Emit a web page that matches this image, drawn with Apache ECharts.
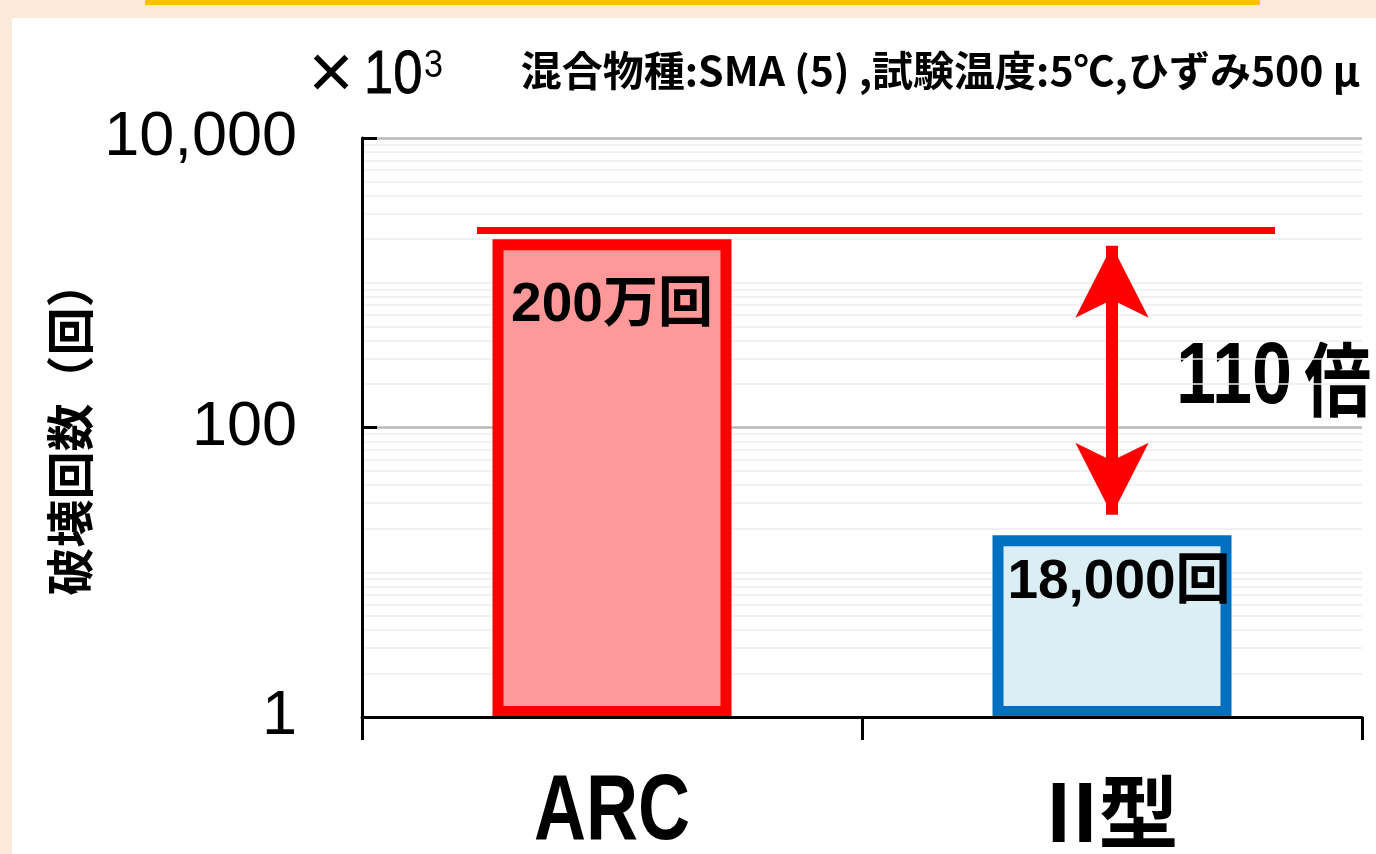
<!DOCTYPE html>
<html>
<head>
<meta charset="utf-8">
<script src="https://cdn.jsdelivr.net/npm/echarts@6/dist/echarts.min.js"></script>
<style>
html, body { margin: 0; padding: 0; background: #FDE9D9; }
#chart { width: 1376px; height: 854px; }
</style>
</head>
<body>
<div id="chart"></div>
<script>
// データ (×10^3 回)
const categories = ['ARC', 'II型'];
const cycles = [2000, 18];
const barLabels = ['200万回', '18,000回'];
const labelGaps = [39, 20];
const labelShift = [0, 7];
const majorTicks = [100, 10000];
const refLineX = [0.23, 1.826];
const refLineValue = 2300;
const arrowValues = [1800, 25];

const fontLatin = "'Liberation Sans', 'Noto Sans CJK JP', sans-serif";
const fontCJK = "'Noto Sans CJK JP', 'Liberation Sans', sans-serif";

// カテゴリ名の書体
const catFonts = ["bold 72px 'Liberation Sans'", "bold 80px 'Noto Sans CJK JP'"];
const catScaleY = [1.3, 1.0];
const catTop = [49, 55];

let myChart = echarts.init(document.getElementById('chart'));

// 目盛線 (主: 100, 10000 / 補助: 2〜9, 10, 1000)
let gridLines = [];
[1, 10, 100, 1000].forEach(d => {
    for (let m = 2; m <= 9; m++) gridLines.push({ yAxis: m * d });
});
gridLines.push({ yAxis: 10 }, { yAxis: 1000 });
majorTicks.forEach(v => {
    gridLines.push({ yAxis: v, lineStyle: { color: '#b8b8b8', width: 2.5 } });
});

let barStyles = [
    { color: '#FF9999', borderColor: '#FF0000' },
    { color: '#DAEEF3', borderColor: '#0070C0' }
];

let barData = cycles.map((v, i) => ({
    value: v,
    itemStyle: { color: barStyles[i].color, borderColor: barStyles[i].borderColor, borderWidth: 11 },
    label: { distance: labelGaps[i], offset: [labelShift[i], 0] }
}));

let baseGraphic = [
    { id: 'panel', type: 'rect', z: -10, silent: true, shape: { x: 12, y: 18, width: 1364, height: 836 }, style: { fill: '#ffffff' } },
    { id: 'band', type: 'rect', z: -10, silent: true, shape: { x: 145, y: 0, width: 1115, height: 5 }, style: { fill: '#FFC000' } },
    { id: 'unitX', type: 'text', x: 331, y: 76, style: { text: '×', font: "78px 'Liberation Sans'", fill: '#000', align: 'center', verticalAlign: 'middle' } },
    { id: 'unit', type: 'text', x: 364, y: 46, scaleX: 0.86, style: { text: '10', font: "61px 'Liberation Sans'", fill: '#000', verticalAlign: 'top', stroke: '#000', lineWidth: 0.8 } },
    { id: 'unitExp', type: 'text', x: 424, y: 48, scaleX: 0.9, style: { text: '3', font: "38px 'Liberation Sans'", fill: '#000', verticalAlign: 'top' } },
    { id: 'cond', type: 'text', right: 16, top: 50, style: { text: '混合物種:SMA (5) ,試験温度:5℃,ひずみ500 μ', font: "bold 41px 'Noto Sans CJK JP'", fill: '#000' } },
    { id: 'ratio', type: 'text', x: 1176, y: 336, scaleY: 1.2, style: {
        text: '{n|110}{k|倍}', fill: '#000', verticalAlign: 'top',
        rich: {
            n: { fontSize: 72, fontWeight: 'bold', fontFamily: 'Liberation Sans' },
            k: { fontSize: 67, fontWeight: 'bold', fontFamily: 'Noto Sans CJK JP', padding: [0, 0, 0, 12] }
        }
    } }
];

option = {
    backgroundColor: '#FDE9D9',
    animation: false,
    graphic: baseGraphic,
    grid: { left: 362, right: 14, top: 138, bottom: 137, containLabel: false },
    xAxis: [{
        type: 'category',
        data: categories,
        z: 10,
        axisLine: { show: true, onZero: false, lineStyle: { color: '#000', width: 3 } },
        axisTick: { show: true, length: 23, lineStyle: { color: '#000', width: 3 } },
        axisLabel: { show: false },
        splitLine: { show: false }
    }, {
        type: 'value', min: 0, max: 2, show: false
    }],
    yAxis: {
        type: 'log',
        logBase: 100,
        min: 1,
        max: 10000,
        z: 10,
        axisLine: { show: true, onZero: false, lineStyle: { color: '#000', width: 3 } },
        axisTick: { show: true, inside: true, length: 15, lineStyle: { color: '#000', width: 3 } },
        axisLabel: {
            fontSize: 63, color: '#000', margin: 65, fontFamily: fontLatin,
            formatter: v => Math.round(v).toLocaleString('en-US')
        },
        splitLine: { show: false },
        name: '破壊回数（回）',
        nameLocation: 'middle',
        nameRotate: 90,
        nameGap: 248,
        nameTextStyle: { fontSize: 48, fontWeight: 'bold', color: '#000', fontFamily: fontCJK }
    },
    series: [{
        name: 'grid',
        type: 'line',
        data: [],
        z: 0,
        silent: true,
        markLine: {
            z: 0,
            silent: true,
            symbol: 'none',
            label: { show: false },
            lineStyle: { color: '#ececec', width: 1.5, type: 'solid' },
            data: gridLines
        }
    }, {
        name: '破壊回数',
        type: 'bar',
        z: 2,
        data: barData,
        barWidth: 239,
        label: {
            show: true,
            position: 'insideTop',
            fontSize: 55,
            fontWeight: 'bold',
            color: '#000',
            fontFamily: fontLatin,
            formatter: p => barLabels[p.dataIndex]
        },
        markLine: {
            silent: true,
            symbol: ['arrow', 'arrow'],
            symbolSize: [55, 72],
            label: { show: false },
            lineStyle: { color: '#FF0000', width: 12, type: 'solid' },
            data: [[{ coord: [categories[1], arrowValues[0]] }, { coord: [categories[1], arrowValues[1]] }]]
        }
    }, {
        name: 'ref',
        type: 'line',
        xAxisIndex: 1,
        z: 3,
        silent: true,
        symbol: 'none',
        lineStyle: { color: '#FF0000', width: 7 },
        data: refLineX.map(x => [x, refLineValue])
    }]
};

myChart.setOption(option);

// カテゴリ名 (縦長の書体に合わせて縦方向に拡大)
let axisBottom = myChart.convertToPixel({ yAxisIndex: 0 }, 1);
let catLabels = categories.map((c, i) => ({
    id: 'cat' + i,
    type: 'text',
    x: myChart.convertToPixel({ xAxisIndex: 0 }, c),
    y: axisBottom + catTop[i],
    scaleY: catScaleY[i],
    style: { text: c, fill: '#000', align: 'center', verticalAlign: 'top', font: catFonts[i] }
}));
myChart.setOption({ graphic: baseGraphic.concat(catLabels) });
</script>
</body>
</html>
